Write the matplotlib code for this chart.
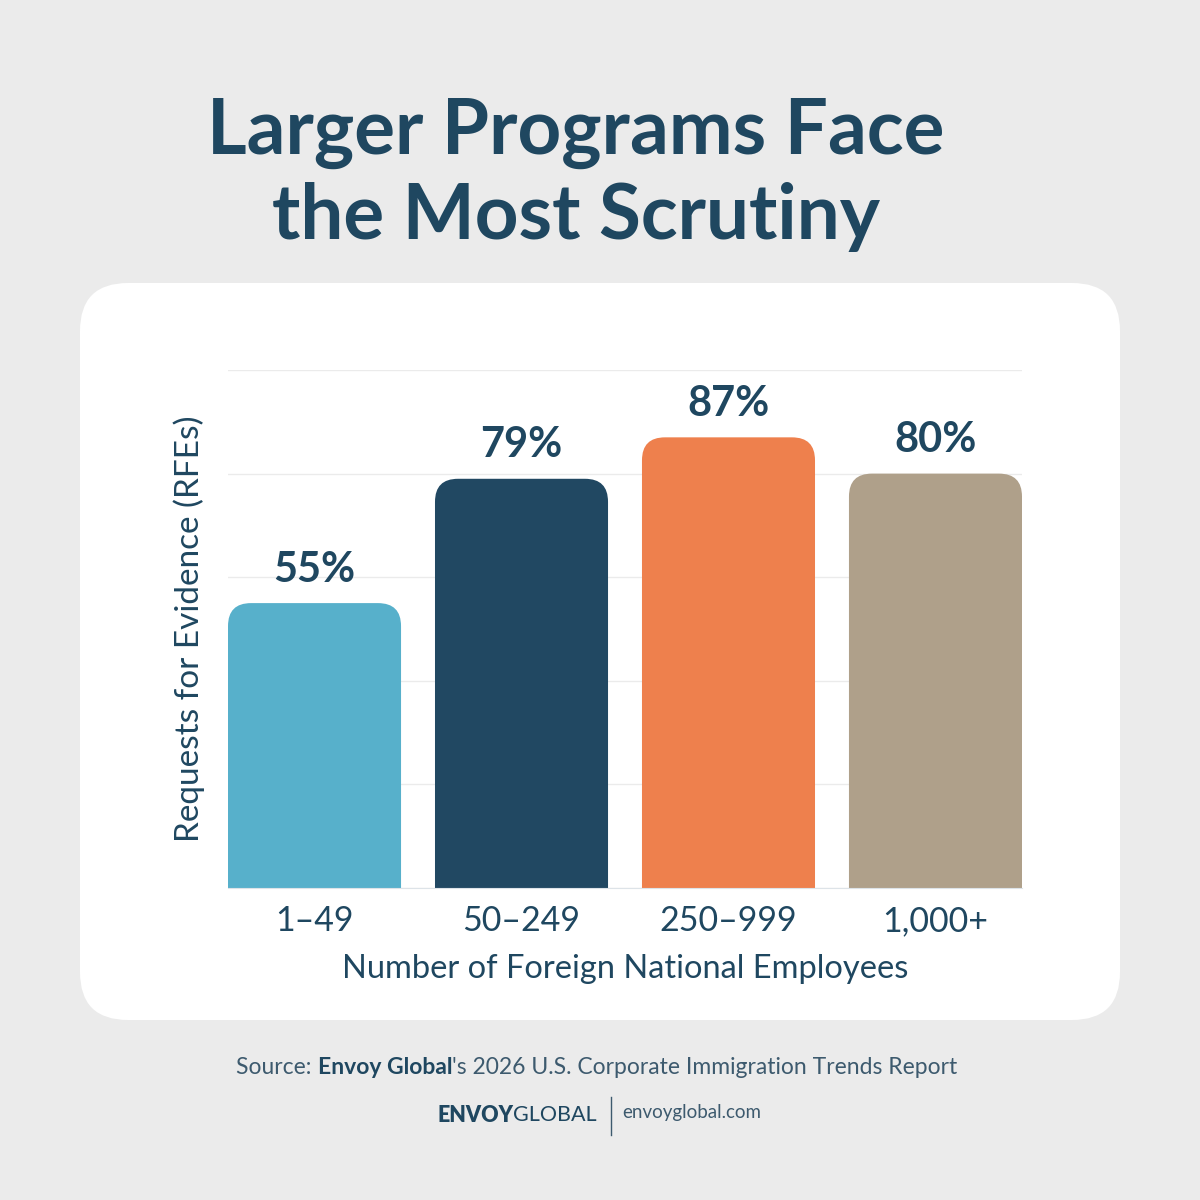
import matplotlib
matplotlib.use("Agg")
import matplotlib.pyplot as plt
from matplotlib.patches import FancyBboxPatch

# --- data ---
categories = ["1\u201349", "50\u2013249", "250\u2013999", "1,000+"]
rfe_pct = [55, 79, 87, 80]
bar_colors = ["#57b0cb", "#214862", "#ee804d", "#afa08a"]

NAVY = "#1f4760"
BG = "#ebebeb"
FONT = "Lato"

plt.rcParams["font.family"] = [FONT, "DejaVu Sans"]

fig = plt.figure(figsize=(12, 12), dpi=100, facecolor=BG)

# white card behind the chart
card = FancyBboxPatch((80 / 1200, 180 / 1200), 1040 / 1200, 737 / 1200,
                      boxstyle="round,pad=0,rounding_size=0.04",
                      transform=fig.transFigure, facecolor="white",
                      edgecolor="none", zorder=-5)
fig.patches.append(card)

fig.text(0.48, 1 - 175 / 1200, "Larger Programs Face\nthe Most Scrutiny",
         ha="center", va="center", fontsize=55, fontweight="bold",
         color=NAVY, linespacing=1.22)

ax = fig.add_axes([228 / 1200, 1 - 888 / 1200, 794 / 1200, 518 / 1200])
ax.set_facecolor("none")
ax.set_xlim(-0.418, 3.418)
ax.set_ylim(0, 100)
ax.set_yticks(range(0, 101, 20))
ax.grid(axis="y", color="#ebebeb", linewidth=1)
ax.set_axisbelow(True)
for s in ["top", "right", "left"]:
    ax.spines[s].set_visible(False)
ax.spines["bottom"].set_color("#dde3e8")
ax.tick_params(axis="y", left=False, labelleft=False)
ax.tick_params(axis="x", bottom=False, pad=9, labelsize=24.5, labelcolor=NAVY)

x = range(len(categories))
bars = ax.bar(x, rfe_pct, width=0.836, color=bar_colors)

# swap plain rectangles for rounded-top versions (bottom corners hidden below y=0)
fig.canvas.draw()
px_x = ax.transData.transform((1, 0))[0] - ax.transData.transform((0, 0))[0]
px_y = ax.transData.transform((0, 1))[1] - ax.transData.transform((0, 0))[1]
aspect = px_x / px_y
r = 23 / px_x
for b in bars:
    b.set_visible(False)
    rb = FancyBboxPatch((b.get_x(), -r * aspect * 2), b.get_width(),
                        b.get_height() + r * aspect * 2,
                        boxstyle=f"round,pad=0,rounding_size={r}",
                        mutation_aspect=aspect, facecolor=b.get_facecolor(),
                        edgecolor="none", zorder=2)
    ax.add_patch(rb)
    ax.text(b.get_x() + b.get_width() / 2, b.get_height() + 2.8,
            f"{b.get_height():.0f}%", ha="center", va="bottom",
            fontsize=30, fontweight="bold", color=NAVY)

ax.set_xticks(list(x))
ax.set_xticklabels(categories)
ax.set_xlabel("Number of Foreign National Employees", fontsize=23.5,
              color=NAVY, labelpad=12)
ax.set_ylabel("Requests for Evidence (RFEs)", fontsize=24, color=NAVY)
ax.yaxis.set_label_coords(-0.029, 0.5)

# footer: source line with a bold name inside it
src_y = 1 - 1068 / 1200
renderer = fig.canvas.get_renderer()
parts = [("Source: ", "normal", "#3d5a6e"), ("Envoy Global", "bold", NAVY),
         ("'s 2026 U.S. Corporate Immigration Trends Report", "normal", "#3d5a6e")]
widths = []
for txt, w, c in parts:
    t = fig.text(0, src_y, txt, fontsize=16.5, fontweight=w, color=c)
    widths.append(t.get_window_extent(renderer).width / 1200)
    t.remove()
xpos = 0.4975 - sum(widths) / 2
for (txt, w, c), wd in zip(parts, widths):
    fig.text(xpos, src_y, txt, fontsize=16.5, fontweight=w, color=c,
             va="center", ha="left")
    xpos += wd

logo_y = 1 - 1115 / 1200
t1 = fig.text(437 / 1200, logo_y, "ENVOY", fontsize=15.5, fontweight="heavy",
              color=NAVY, va="center", ha="left")
w1 = t1.get_window_extent(renderer).width / 1200
fig.text(437 / 1200 + w1, logo_y, "GLOBAL", fontsize=15.5, fontweight="normal",
         color=NAVY, va="center", ha="left")
fig.add_artist(plt.Line2D([611 / 1200, 611 / 1200],
                          [1 - 1135 / 1200, 1 - 1097 / 1200],
                          color="#3d5a6e", linewidth=1))
fig.text(622 / 1200, logo_y + 0.002, "envoyglobal.com", fontsize=13.5,
         color="#3d5a6e", va="center", ha="left")

fig.savefig("out.png", dpi=100, facecolor=BG)
